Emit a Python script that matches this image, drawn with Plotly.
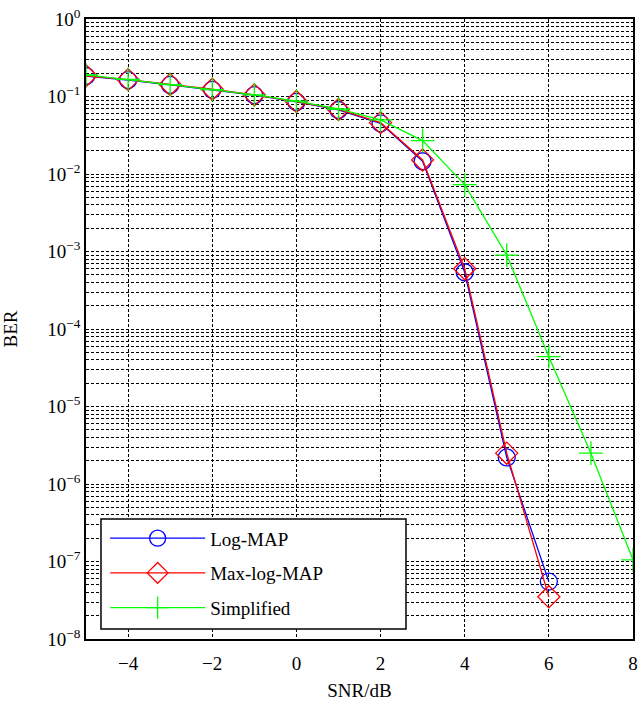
import plotly.graph_objects as go

snr = [-5, -4, -3, -2, -1, 0, 1, 2, 3, 4, 5, 6]
snr_simplified = [-5, -4, -3, -2, -1, 0, 1, 2, 3, 4, 5, 6, 7, 8]

ber_logmap = [0.184, 0.163, 0.141, 0.122, 0.104, 0.085, 0.067, 0.045, 0.0146, 5.4e-4, 2.2e-6, 5.5e-8]
ber_maxlogmap = [0.185, 0.165, 0.143, 0.124, 0.105, 0.086, 0.068, 0.046, 0.0152, 6.0e-4, 2.5e-6, 3.5e-8]
ber_simplified = [0.19, 0.166, 0.142, 0.123, 0.105, 0.087, 0.069, 0.050, 0.027, 0.0073, 9.0e-4, 4.4e-5, 2.5e-6, 1.05e-7]

x_ticks = [-4, -2, 0, 2, 4, 6, 8]
x_ticklabels = ["\u22124", "\u22122", "0", "2", "4", "6", "8"]
y_ticks = [1, 1e-1, 1e-2, 1e-3, 1e-4, 1e-5, 1e-6, 1e-7, 1e-8]
y_ticklabels = ["10<sup>0</sup>"] + [f"10<sup>\u2212{k}</sup>" for k in range(1, 9)]

names = ["Log-MAP", "Max-log-MAP", "Simplified"]
colors = ["#0000ff", "#ff0000", "#00ff00"]

FONT = "Liberation Serif, Times New Roman, serif"

fig = go.Figure()
fig.add_trace(go.Scatter(
    x=snr, y=ber_logmap, name=names[0], mode="lines+markers", legendgroup="g0",
    line=dict(color=colors[0], width=1.3),
    marker=dict(symbol="circle-open", size=17, color=colors[0], line=dict(width=1.3)),
))
fig.add_trace(go.Scatter(
    x=snr, y=ber_maxlogmap, name=names[1], mode="lines+markers", legendgroup="g1",
    line=dict(color=colors[1], width=1.3),
    marker=dict(symbol="diamond-open", size=17, color=colors[1], line=dict(width=1.3)),
))
fig.add_trace(go.Scatter(
    x=snr_simplified, y=ber_simplified, name=names[2], mode="lines+markers", legendgroup="g2",
    line=dict(color=colors[2], width=1.3),
    marker=dict(symbol="cross-thin-open", size=17, color=colors[2], line=dict(width=1.3, color=colors[2])),
))

grid = dict(gridcolor="black", griddash="3px,2px", gridwidth=1)

# legend frame drawn as a paper-referenced box
fig.add_shape(type="rect", xref="paper", yref="paper",
              x0=0.0274, x1=0.585, y0=0.016, y1=0.1935,
              line=dict(color="black", width=1.5), fillcolor="white", layer="above")

fig.update_layout(
    width=638, height=703,
    margin=dict(l=86, r=5, t=19, b=64),
    paper_bgcolor="white", plot_bgcolor="white",
    font=dict(family=FONT, size=19, color="black"),
    showlegend=True,
    legend=dict(
        x=0.035, y=0.193, xanchor="left", yanchor="top",
        borderwidth=0, bgcolor="rgba(0,0,0,0)",
        font=dict(family=FONT, size=19, color="black"),
        itemwidth=95, tracegroupgap=7,
    ),
    xaxis=dict(
        range=[-5, 8], tickmode="array", tickvals=x_ticks, ticktext=x_ticklabels,
        showgrid=True, **grid, zeroline=False, automargin=False,
        showline=True, linecolor="black", linewidth=1.5, mirror=True,
        ticks="", tickfont=dict(size=19), ticklabeloverflow="allow", ticklabelstandoff=6,
        title=dict(text="SNR/dB", font=dict(size=19), standoff=11),
    ),
    yaxis=dict(
        type="log", range=[-8, 0], tickmode="array", tickvals=y_ticks, ticktext=y_ticklabels,
        showgrid=True, **grid, zeroline=False, automargin=False,
        minor=dict(dtick="D1", showgrid=True, **grid, ticks=""),
        showline=True, linecolor="black", linewidth=1.5, mirror=True,
        ticks="", tickfont=dict(size=19), ticklabeloverflow="allow",
        title=dict(text="BER", font=dict(size=19), standoff=27),
    ),
)

fig.write_html(
    "out.html",
    config={"displayModeBar": False},
    post_script="document.body.style.margin='0';document.body.style.overflow='hidden';",
)
